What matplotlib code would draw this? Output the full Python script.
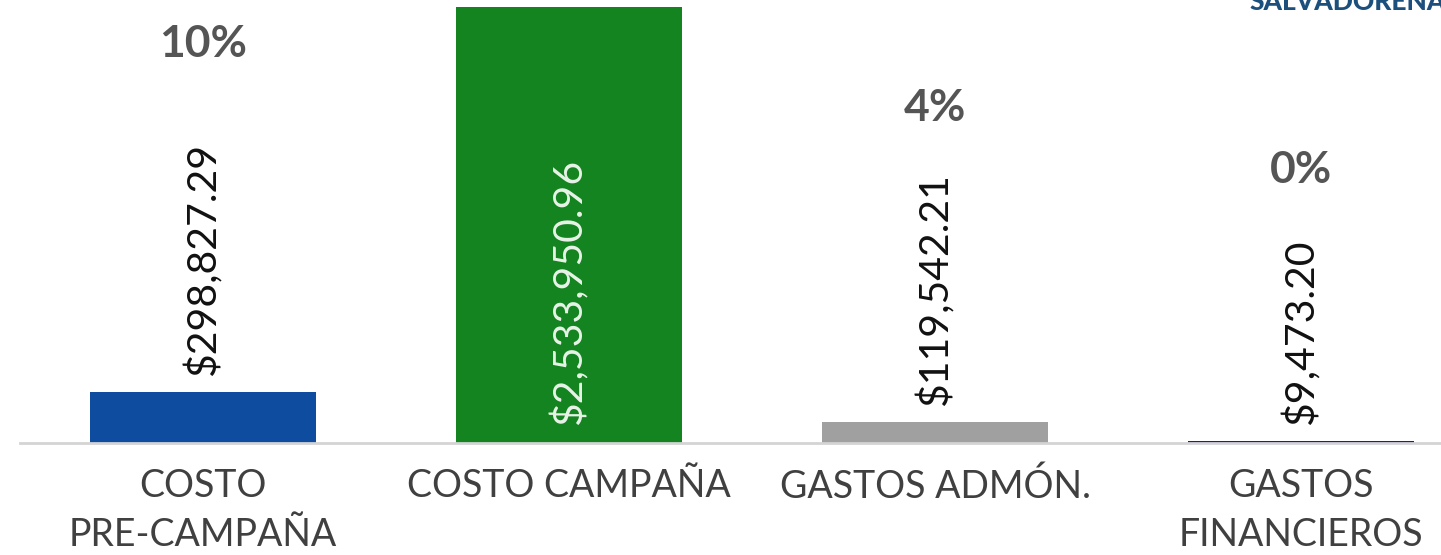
import matplotlib
matplotlib.use("Agg")
import matplotlib.pyplot as plt

categories = ["COSTO\nPRE-CAMPAÑA", "COSTO CAMPAÑA", "GASTOS ADMÓN.", "GASTOS\nFINANCIEROS"]
values = [298827.29, 2533950.96, 119542.21, 9473.20]
bar_colors = ["#0d4c9e", "#13841f", "#a0a0a0", "#1c1c9c"]

total = sum(values)
pct_labels = [f"{round(v / total * 100):.0f}%" for v in values]
val_labels = [f"${v:,.2f}" for v in values]

# layout (pixel offsets for percent labels above bar top)
pct_offsets = [348, 600, 314, 271]

W, H = 1441, 555
fig = plt.figure(figsize=(W / 100, H / 100), dpi=100)
left = 20 / W
right_px = 1484
ax = fig.add_axes([left, (H - 443) / H, (right_px - 20) / W, 436 / H])
ax.set_xlim(-0.5, 3.5)
ax.set_ylim(0, values[1])
ax.bar(range(4), values, width=0.617, color=bar_colors)

for s in ["top", "right", "left"]:
    ax.spines[s].set_visible(False)
ax.spines["bottom"].set_color("#d4d4d4")
ax.spines["bottom"].set_linewidth(2)
ax.set_yticks([])
ax.set_xticks(range(4))
ax.set_xticklabels(categories, fontsize=27, color="#404040", family="Lato",
                   linespacing=1.45)
ax.tick_params(axis="x", length=0, pad=18)

font = "Lato"
for i, v in enumerate(values):
    if i == 1:
        ax.annotate(val_labels[i], (i, 0), xytext=(0, 18), textcoords="offset pixels",
                    rotation=90, ha="center", va="bottom", fontsize=29.5,
                    color="#e8f3e8", family=font)
    else:
        ax.annotate(val_labels[i], (i, v), xytext=(0, 16), textcoords="offset pixels",
                    rotation=90, ha="center", va="bottom", fontsize=29.5,
                    color="#111111", family=font)
        ax.annotate(pct_labels[i], (i, v), xytext=(0, pct_offsets[i]),
                    textcoords="offset pixels", ha="center", va="center",
                    fontsize=32, fontweight="bold", color="#555555", family=font,
                    annotation_clip=False)

fig.text(1348 / W, 1 - 2 / H, "SALVADOREÑA", ha="center", va="center",
         fontsize=19, fontweight="black", color="#1d4f7c", family="Lato")

fig.savefig("out.png", dpi=100)
